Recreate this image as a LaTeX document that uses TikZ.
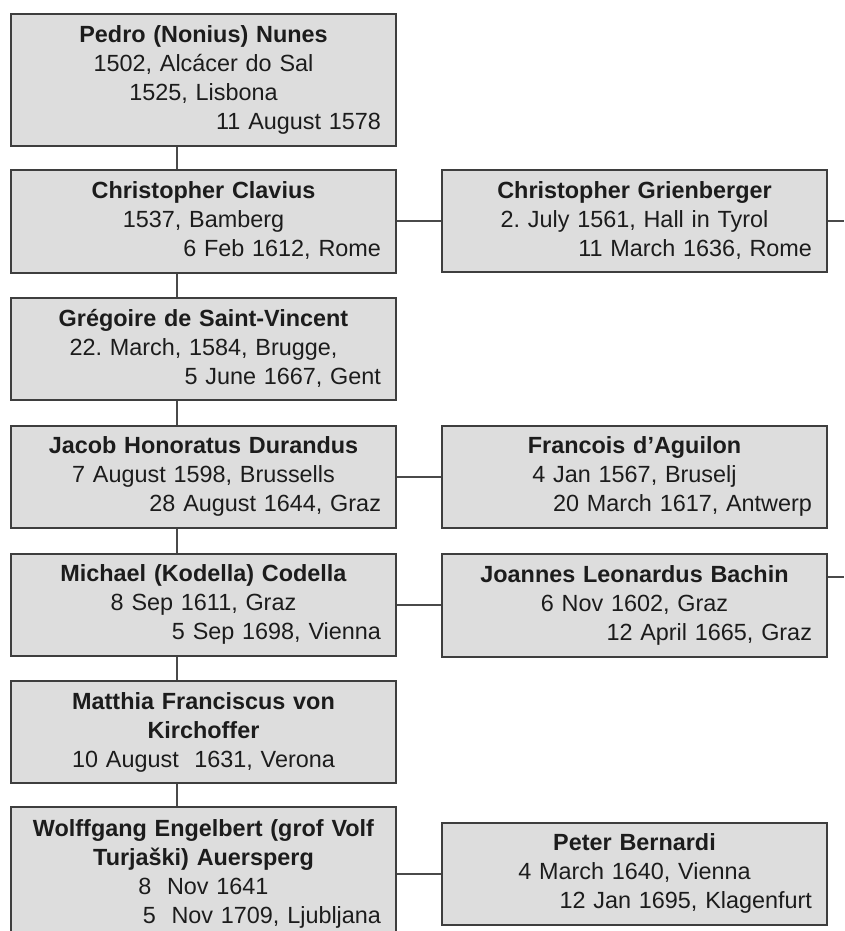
\documentclass[tikz,border=0pt]{standalone}
\usepackage{fontspec}
\setmainfont{Liberation Sans}
\usetikzlibrary{positioning}
\setlength{\parindent}{0pt}
\frenchspacing
\definecolor{boxfill}{HTML}{DDDDDD}
\definecolor{boxline}{HTML}{3E3E3E}
\definecolor{linkgray}{HTML}{4A4A4A}
\definecolor{inkgray}{HTML}{1C1C1C}
\newcommand{\rgt}[1]{\leavevmode\hskip 0pt plus 1filll #1}

\begin{document}
\begin{tikzpicture}[x=1pt,y=-1pt,
    person/.style={draw=boxline,line width=2pt,fill=boxfill,text=inkgray,
        text width=355pt,inner xsep=15pt,inner ysep=3pt,align=center,
        font=\fontsize{23.4}{29}\selectfont},
    link/.style={draw=linkgray,line width=2pt}]
        \clip (0,0) rectangle (844,931);
        \coordinate (spine) at (177,0);
        \coordinate (edge) at (844,0);
        \coordinate (bstub) at (844,577);
        % main line of teachers and students
        \node[person,minimum height=131pt] (nunes) at (203.5,80) {\textbf{Pedro (Nonius) Nunes}\\1502, Alcácer do Sal\\1525, Lisbona\\\rgt{11 August 1578}};
        \node[person,minimum height=103pt] (clavius) at (203.5,221) {\textbf{Christopher Clavius}\\1537, Bamberg\\\rgt{6 Feb 1612, Rome}};
        \node[person,minimum height=102pt] (vincent) at (203.5,348.5) {\textbf{Grégoire de Saint-Vincent}\\22. March, 1584, Brugge,\\\rgt{5 June 1667, Gent}};
        \node[person,minimum height=102pt] (durandus) at (203.5,476.5) {\textbf{Jacob Honoratus Durandus}\\7 August 1598, Brussells\\\rgt{28 August 1644, Graz}};
        \node[person,minimum height=102pt] (codella) at (203.5,604.5) {\textbf{Michael (Kodella) Codella}\\8 Sep 1611, Graz\\\rgt{5 Sep 1698, Vienna}};
        \node[person,minimum height=102pt] (kirch) at (203.5,732) {\textbf{Matthia Franciscus von}\\\textbf{Kirchoffer}\\10 August\ \ 1631, Verona};
        \node[person,inner ysep=13pt,anchor=north] (auer) at (203.5,806) {\textbf{Wolffgang Engelbert (grof Volf}\\\textbf{Turjaški) Auersperg}\\8\ \ Nov 1641\\\rgt{5\ \ Nov 1709, Ljubljana}};
        % side branches
        \node[person,minimum height=102pt] (grien) at (634.5,220.5) {\textbf{Christopher Grienberger}\\2. July 1561, Hall in Tyrol\\\rgt{11 March 1636, Rome}};
        \node[person,minimum height=102pt] (aguilon) at (634.5,476.5) {\textbf{Francois d'Aguilon}\\4 Jan 1567, Bruselj\\\rgt{20 March 1617, Antwerp}};
        \node[person,minimum height=103pt] (bachin) at (634.5,605) {\textbf{Joannes Leonardus Bachin}\\6 Nov 1602, Graz\\\rgt{12 April 1665, Graz}};
        \node[person,minimum height=102pt] (bernardi) at (634.5,873.5) {\textbf{Peter Bernardi}\\4 March 1640, Vienna\\\rgt{12 Jan 1695, Klagenfurt}};
        \foreach \upper/\lower in {nunes/clavius, clavius/vincent, vincent/durandus, durandus/codella, codella/kirch, kirch/auer} {
            \draw[link] (\upper.south -| spine) -- (\lower.north -| spine);
        }
        \draw[link] (grien.west -| clavius.east) -- (grien.west);
        \draw[link] (durandus.east) -- (aguilon.west);
        \draw[link] (codella.east) -- (codella.east -| bachin.west);
        \draw[link] (bernardi.west -| auer.east) -- (bernardi.west);
        \draw[link] (grien.east) -- (grien.east -| edge);
        \draw[link] (bstub -| bachin.east) -- (bstub);
    \end{tikzpicture}
\end{document}
